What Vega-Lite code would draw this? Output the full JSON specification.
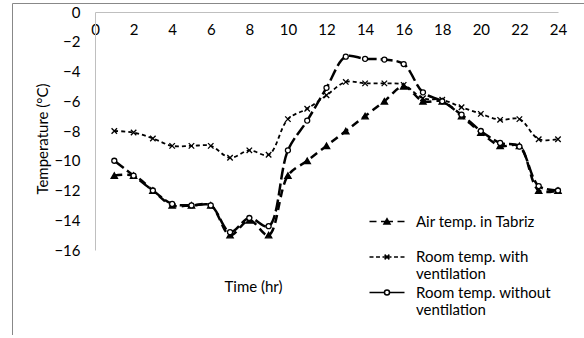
{
  "$schema": "https://vega.github.io/schema/vega-lite/v6.json",
  "autosize": {"type": "none"},
  "padding": {"left": 12, "top": 3, "right": 0, "bottom": 0},
  "width": 580,
  "height": 332,
  "background": "white",
  "data": {"values": [
    {"h":1,"T":-11,"s":"Air temp. in Tabriz"},{"h":2,"T":-11,"s":"Air temp. in Tabriz"},{"h":3,"T":-12,"s":"Air temp. in Tabriz"},{"h":4,"T":-13,"s":"Air temp. in Tabriz"},{"h":5,"T":-13,"s":"Air temp. in Tabriz"},{"h":6,"T":-13,"s":"Air temp. in Tabriz"},{"h":7,"T":-15,"s":"Air temp. in Tabriz"},{"h":8,"T":-14,"s":"Air temp. in Tabriz"},{"h":9,"T":-15,"s":"Air temp. in Tabriz"},{"h":10,"T":-11,"s":"Air temp. in Tabriz"},{"h":11,"T":-10,"s":"Air temp. in Tabriz"},{"h":12,"T":-9,"s":"Air temp. in Tabriz"},{"h":13,"T":-8,"s":"Air temp. in Tabriz"},{"h":14,"T":-7,"s":"Air temp. in Tabriz"},{"h":15,"T":-6,"s":"Air temp. in Tabriz"},{"h":16,"T":-5,"s":"Air temp. in Tabriz"},{"h":17,"T":-6,"s":"Air temp. in Tabriz"},{"h":18,"T":-6,"s":"Air temp. in Tabriz"},{"h":19,"T":-7,"s":"Air temp. in Tabriz"},{"h":20,"T":-8.1,"s":"Air temp. in Tabriz"},{"h":21,"T":-9,"s":"Air temp. in Tabriz"},{"h":22,"T":-9,"s":"Air temp. in Tabriz"},{"h":23,"T":-12,"s":"Air temp. in Tabriz"},{"h":24,"T":-12,"s":"Air temp. in Tabriz"},
    {"h":1,"T":-8,"s":"Room temp. with ventilation"},{"h":2,"T":-8.1,"s":"Room temp. with ventilation"},{"h":3,"T":-8.5,"s":"Room temp. with ventilation"},{"h":4,"T":-9,"s":"Room temp. with ventilation"},{"h":5,"T":-9,"s":"Room temp. with ventilation"},{"h":6,"T":-9,"s":"Room temp. with ventilation"},{"h":7,"T":-9.8,"s":"Room temp. with ventilation"},{"h":8,"T":-9.3,"s":"Room temp. with ventilation"},{"h":9,"T":-9.6,"s":"Room temp. with ventilation"},{"h":10,"T":-7.2,"s":"Room temp. with ventilation"},{"h":11,"T":-6.5,"s":"Room temp. with ventilation"},{"h":12,"T":-5.6,"s":"Room temp. with ventilation"},{"h":13,"T":-4.7,"s":"Room temp. with ventilation"},{"h":14,"T":-4.8,"s":"Room temp. with ventilation"},{"h":15,"T":-4.8,"s":"Room temp. with ventilation"},{"h":16,"T":-4.9,"s":"Room temp. with ventilation"},{"h":17,"T":-5.8,"s":"Room temp. with ventilation"},{"h":18,"T":-5.9,"s":"Room temp. with ventilation"},{"h":19,"T":-6.4,"s":"Room temp. with ventilation"},{"h":20,"T":-6.85,"s":"Room temp. with ventilation"},{"h":21,"T":-7.25,"s":"Room temp. with ventilation"},{"h":22,"T":-7.2,"s":"Room temp. with ventilation"},{"h":23,"T":-8.55,"s":"Room temp. with ventilation"},{"h":24,"T":-8.55,"s":"Room temp. with ventilation"},
    {"h":1,"T":-10,"s":"Room temp. without ventilation"},{"h":2,"T":-11,"s":"Room temp. without ventilation"},{"h":3,"T":-12,"s":"Room temp. without ventilation"},{"h":4,"T":-12.9,"s":"Room temp. without ventilation"},{"h":5,"T":-13,"s":"Room temp. without ventilation"},{"h":6,"T":-13,"s":"Room temp. without ventilation"},{"h":7,"T":-14.8,"s":"Room temp. without ventilation"},{"h":8,"T":-13.85,"s":"Room temp. without ventilation"},{"h":9,"T":-14.4,"s":"Room temp. without ventilation"},{"h":10,"T":-9.3,"s":"Room temp. without ventilation"},{"h":11,"T":-7.3,"s":"Room temp. without ventilation"},{"h":12,"T":-5.1,"s":"Room temp. without ventilation"},{"h":13,"T":-3,"s":"Room temp. without ventilation"},{"h":14,"T":-3.15,"s":"Room temp. without ventilation"},{"h":15,"T":-3.2,"s":"Room temp. without ventilation"},{"h":16,"T":-3.5,"s":"Room temp. without ventilation"},{"h":17,"T":-5.4,"s":"Room temp. without ventilation"},{"h":18,"T":-6,"s":"Room temp. without ventilation"},{"h":19,"T":-6.9,"s":"Room temp. without ventilation"},{"h":20,"T":-8,"s":"Room temp. without ventilation"},{"h":21,"T":-8.8,"s":"Room temp. without ventilation"},{"h":22,"T":-9.05,"s":"Room temp. without ventilation"},{"h":23,"T":-11.7,"s":"Room temp. without ventilation"},{"h":24,"T":-12,"s":"Room temp. without ventilation"}
  ]},
  "encoding": {
    "x": {"field": "h", "type": "quantitative",
      "scale": {"domain": [0, 24], "range": [83, 546], "nice": false, "zero": false},
      "axis": {"orient": "bottom", "offset": -323, "values": [0,2,4,6,8,10,12,14,16,18,20,22,24],
        "labelPadding": 10, "labelAngle": 0, "labelFlush": false, "labelOverlap": false,
        "title": "Time (hr)", "titleX": 241, "titleY": 274, "titleBaseline": "middle", "titleAlign": "center", "titlePadding": 0}},
    "y": {"field": "T", "type": "quantitative",
      "scale": {"domain": [-16, 0], "range": [247, 9], "nice": false, "zero": false},
      "axis": {"orient": "left", "offset": -83, "values": [-16,-14,-12,-10,-8,-6,-4,-2,0],
        "labelPadding": 15, "labelFlush": false, "labelOverlap": false,
        "title": "Temperature (°C)", "titleX": -53, "titleY": 135.5, "titleAngle": -90, "titleBaseline": "middle", "titleAlign": "center"}}
  },
  "layer": [
    {
      "mark": {"type": "line", "interpolate": "catmull-rom", "color": "black", "strokeCap": "butt"},
      "encoding": {
        "detail": {"field": "s", "type": "nominal"},
        "strokeDash": {"condition": [
            {"test": "datum.s == 'Air temp. in Tabriz'", "value": [8, 5]},
            {"test": "datum.s == 'Room temp. with ventilation'", "value": [4, 3]}
          ], "value": [12, 4]},
        "strokeWidth": {"condition": {"test": "datum.s == 'Room temp. with ventilation'", "value": 1.8}, "value": 2.5}
      }
    },
    {
      "mark": {"type": "point", "filled": true, "stroke": "black", "strokeWidth": 1.3, "opacity": 1},
      "encoding": {
        "shape": {"condition": [
            {"test": "datum.s == 'Air temp. in Tabriz'", "value": "triangle-up"},
            {"test": "datum.s == 'Room temp. with ventilation'", "value": "M-1,-1L1,1M-1,1L1,-1"}
          ], "value": "circle"},
        "fill": {"condition": [
            {"test": "datum.s == 'Air temp. in Tabriz'", "value": "black"},
            {"test": "datum.s == 'Room temp. with ventilation'", "value": "transparent"}
          ], "value": "white"},
        "size": {"condition": [
            {"test": "datum.s == 'Air temp. in Tabriz'", "value": 40},
            {"test": "datum.s == 'Room temp. with ventilation'", "value": 30}
          ], "value": 25}
      }
    },
    {
      "transform": [{"filter": "datum.h < 0"}],
      "mark": {"type": "point", "filled": true, "stroke": "black", "strokeWidth": 2, "opacity": 1},
      "encoding": {
        "shape": {"field": "s", "type": "nominal",
          "scale": {"domain": ["Air temp. in Tabriz", "Room temp. with ventilation", "Room temp. without ventilation"],
            "range": [
              "M-2.917,0H-1.75M-1.0,0H1.0M1.75,0H2.917M-0.5,0.4L0,-0.45L0.5,0.4ZM-0.25,0.25L0,-0.15L0.25,0.25Z",
              "M-2.917,0H-2.25M-1.83,0H-1.17M-0.75,0H-0.25M0.25,0H0.75M1.17,0H1.83M2.25,0H2.917M-0.4,-0.4L0.4,0.4M-0.4,0.4L0.4,-0.4",
              "M-2.917,0H-0.42M0.42,0H2.917M-0.42,0A0.42,0.42 0 1,0 0.42,0A0.42,0.42 0 1,0 -0.42,0Z"
            ]},
          "legend": {
            "orient": "none", "legendX": 367.5, "legendY": 211, "title": null,
            "rowPadding": 2.5, "labelOffset": 21.5, "labelLimit": 300, "padding": 0,
            "symbolSize": 144,
            "labelFont": "Lato", "labelFontSize": 15, "labelColor": "#000",
            "labelExpr": "datum.label == 'Air temp. in Tabriz' ? ['Air temp. in Tabriz', ' '] : datum.label == 'Room temp. with ventilation' ? ['Room temp. with', 'ventilation'] : ['Room temp. without', 'ventilation']"
          }},
        "fill": {"condition": [
            {"test": "datum.s == 'Air temp. in Tabriz'", "value": "black"},
            {"test": "datum.s == 'Room temp. with ventilation'", "value": "transparent"}
          ], "value": "white"}
      }
    }
  ],
  "config": {
    "view": {"stroke": "#888888", "strokeWidth": 1},
    "font": "Lato",
    "axis": {
      "labelFont": "Lato", "labelFontSize": 15, "labelColor": "#000",
      "titleFont": "Lato", "titleFontSize": 15, "titleFontWeight": "normal", "titleColor": "#000",
      "grid": false, "ticks": false, "tickSize": 0,
      "domainColor": "#bfbfbf", "domainWidth": 1
    }
  }
}
